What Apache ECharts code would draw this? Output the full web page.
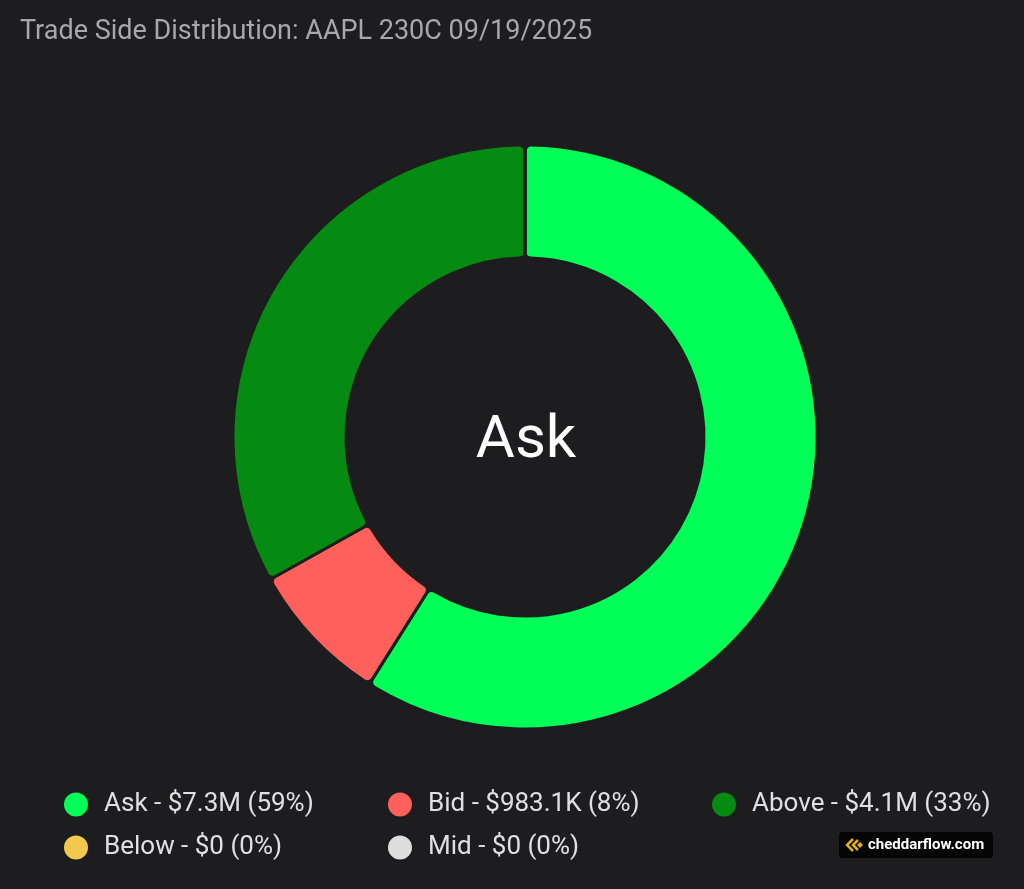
<!DOCTYPE html>
<html>
<head>
<meta charset="utf-8">
<script src="https://cdn.jsdelivr.net/npm/echarts@6/dist/echarts.min.js"></script>
<style>
html,body{margin:0;padding:0;background:#1d1d1f;}
#c{width:1024px;height:889px;}
</style>
</head>
<body>
<div id="c"></div>
<script>
const titleText = 'Trade Side Distribution: AAPL 230C 09/19/2025';
const sides = ['Ask', 'Bid', 'Above', 'Below', 'Mid'];
const values = [7300000, 983100, 4100000, 0, 0];
const amountLabels = ['$7.3M', '$983.1K', '$4.1M', '$0', '$0'];
const pctLabels = ['59%', '8%', '33%', '0%', '0%'];
const colors = ['#00ff57', '#ff605c', '#058a12', '#f2c94c', '#dddddd'];
const centerLabel = 'Ask';

const FONT = 'Roboto, "Noto Sans", sans-serif';
const BG = '#1d1d1f';
const chart = echarts.init(document.getElementById('c'));
chart.setOption({
  backgroundColor: BG,
  animation: false,
  title: [{
    text: titleText, left: 20, top: 19, padding: 0,
    textStyle: {color: '#a8a8a8', fontSize: 27, fontWeight: 'normal', fontFamily: FONT}
  }, {
    text: centerLabel, left: 526, top: 442, textAlign: 'center', textVerticalAlign: 'middle', padding: 0,
    textStyle: {color: '#ffffff', fontSize: 60, fontWeight: 'normal', fontFamily: FONT}
  }],
  legend: {
    left: 62, top: 788, width: 962, padding: 0,
    orient: 'horizontal', selectedMode: false,
    itemWidth: 26, itemHeight: 26, itemGap: 10, icon: 'circle',
    data: sides,
    formatter: function (name) {
      const i = sides.indexOf(name);
      return name + ' - ' + amountLabels[i] + ' (' + pctLabels[i] + ')';
    },
    textStyle: {color: '#e0e0e0', fontSize: 26, fontFamily: FONT, width: 272, lineHeight: 33, padding: [0, 0, 0, 10]}
  },
  series: [{
    type: 'pie',
    center: [525, 437],
    radius: [179, 292],
    startAngle: 90,
    clockwise: true,
    label: {show: false},
    labelLine: {show: false},
    emphasis: {disabled: true},
    itemStyle: {borderRadius: 6, borderColor: BG, borderWidth: 3},
    data: sides.map((s, i) => ({name: s, value: values[i], itemStyle: {color: colors[i]}}))
  }],
  graphic: [{
    type: 'group', left: 839, top: 832,
    children: [
      {type: 'rect', shape: {x: 0, y: 0, width: 154, height: 26, r: 4}, style: {fill: '#050505'}},
      {type: 'polyline', shape: {points: [[14, 7], [8, 13], [14, 19]]}, style: {stroke: '#e0b020', lineWidth: 2.5, fill: null}},
      {type: 'polyline', shape: {points: [[19, 8], [14, 13], [19, 18]]}, style: {stroke: '#e0b020', lineWidth: 2.5, fill: null}},
      {type: 'polygon', shape: {points: [[21, 10], [24, 13], [21, 16], [18, 13]]}, style: {fill: '#e0b020'}},
      {type: 'text', x: 29, y: 13, style: {text: 'cheddarflow.com', fill: '#ffffff', font: 'bold 15px ' + FONT, textVerticalAlign: 'middle'}}
    ]
  }]
});
</script>
</body>
</html>
